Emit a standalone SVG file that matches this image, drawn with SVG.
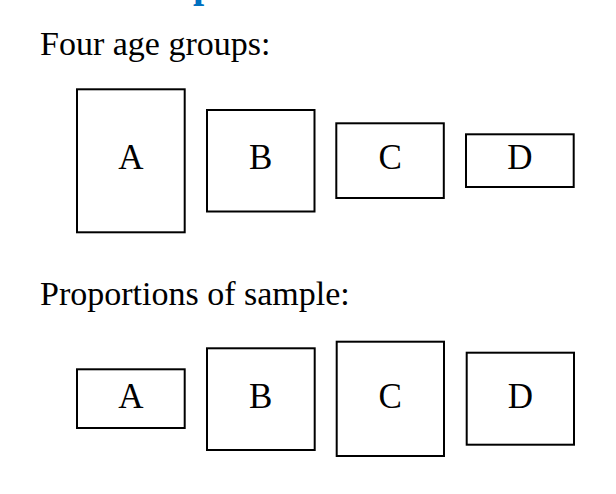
<svg xmlns="http://www.w3.org/2000/svg" width="616" height="494" viewBox="0 0 616 494">
<style>
  .box { fill: #ffffff; stroke: #000000; stroke-width: 2; }
  .head { font-family: "Liberation Serif", "DejaVu Serif", serif; font-size: 34px; fill: #000000; }
  .lbl { font-family: "Liberation Serif", "DejaVu Serif", serif; font-size: 35px; fill: #000000; text-anchor: middle; }
  .title { font-family: "Liberation Serif", "DejaVu Serif", serif; font-size: 40px; font-weight: bold; fill: #0070C0; }
</style>
<rect x="0" y="0" width="616" height="494" fill="#ffffff"/>
<text class="title" x="193" y="-3.5">p</text>
<text class="head" x="40" y="54.5">Four age groups:</text>
<text class="head" x="40" y="304.5">Proportions of sample:</text>
<g id="connectors"></g>
<g id="age-A"><rect class="box" x="77" y="89.3" width="107.7" height="143"/><text class="lbl" x="130.8" y="168.5">A</text></g>
<g id="age-B"><rect class="box" x="207" y="110" width="107.5" height="101.5"/><text class="lbl" x="260.8" y="168.5">B</text></g>
<g id="age-C"><rect class="box" x="336.3" y="123.3" width="107.5" height="74.7"/><text class="lbl" x="390.3" y="168.5">C</text></g>
<g id="age-D"><rect class="box" x="466" y="134.3" width="107.7" height="52.7"/><text class="lbl" x="520" y="168.5">D</text></g>
<g id="prop-A"><rect class="box" x="77" y="369.3" width="107.7" height="58.7"/><text class="lbl" x="130.8" y="407.8">A</text></g>
<g id="prop-B"><rect class="box" x="207" y="348.3" width="107.7" height="101.7"/><text class="lbl" x="260.8" y="407.8">B</text></g>
<g id="prop-C"><rect class="box" x="336.7" y="341.7" width="107.3" height="114.3"/><text class="lbl" x="390.3" y="407.8">C</text></g>
<g id="prop-D"><rect class="box" x="466.7" y="352.7" width="107.3" height="92"/><text class="lbl" x="520.3" y="407.8">D</text></g>
</svg>
